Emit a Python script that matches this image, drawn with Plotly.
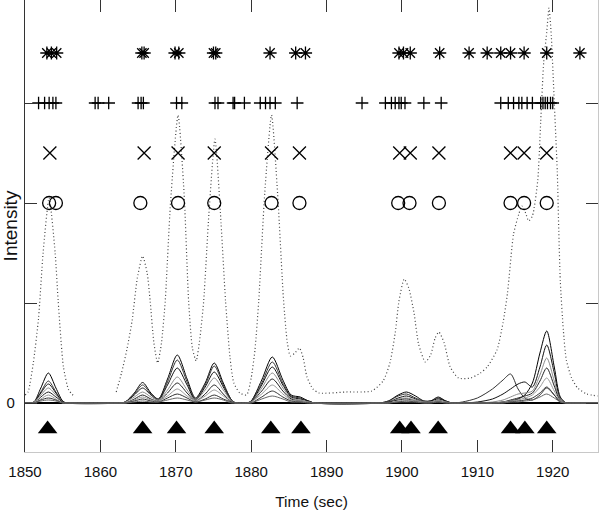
import plotly.graph_objects as go

# ---------------- data ----------------
# knot times shared by the solid (extracted-ion) chromatogram traces
KNOT_X = [1850.0, 1850.6, 1851.2, 1852.1, 1853.1, 1854.1, 1855.0, 1855.6,
          1862.6, 1863.3, 1864.5, 1865.6, 1866.7,
          1867.7,
          1868.9, 1870.2, 1871.5,
          1872.6,
          1873.9, 1875.1, 1876.3, 1877.4, 1878.0,
          1879.4, 1880.0, 1881.4, 1882.8, 1884.2, 1885.3, 1886.5, 1887.6, 1888.4,
          1897.0, 1898.2, 1899.5, 1900.6, 1901.8, 1902.9, 1903.8, 1904.8, 1905.8, 1906.6,
          1908.0, 1910.0, 1912.0, 1913.4, 1914.4, 1915.4, 1916.3, 1917.3, 1918.3, 1919.2,
          1920.2, 1921.0, 1921.8, 1922.5, 1926.0]

curve1 = [0, 0, 0.01, 0.15, 0.30, 0.15, 0.02, 0,
          0, 0.01, 0.10, 0.205, 0.10,
          0.04,
          0.24, 0.48, 0.24,
          0.05,
          0.20, 0.40, 0.20, 0.03, 0,
          0, 0.02, 0.23, 0.46, 0.23, 0.08, 0.06, 0.02, 0,
          0, 0.02, 0.08, 0.11, 0.07, 0.02, 0.02, 0.06, 0.02, 0,
          0, 0, 0, 0.01, 0.02, 0.04, 0.08, 0.20, 0.50, 0.72, 0.36, 0.06, 0, 0, 0]
curve2 = [0, 0, 0.01, 0.11, 0.22, 0.11, 0.01, 0,
          0, 0.01, 0.09, 0.18, 0.09,
          0.04,
          0.21, 0.43, 0.21,
          0.04,
          0.18, 0.37, 0.18, 0.03, 0,
          0, 0.02, 0.20, 0.41, 0.20, 0.07, 0.05, 0.02, 0,
          0, 0.02, 0.07, 0.09, 0.05, 0.02, 0.02, 0.05, 0.02, 0,
          0.01, 0.05, 0.14, 0.23, 0.29, 0.14, 0.05, 0.03, 0.08, 0.15, 0.08, 0.01, 0, 0, 0]
curve3 = [0, 0, 0.01, 0.10, 0.19, 0.10, 0.01, 0,
          0, 0.01, 0.08, 0.15, 0.08,
          0.03,
          0.18, 0.35, 0.18,
          0.03,
          0.16, 0.31, 0.16, 0.02, 0,
          0, 0.01, 0.18, 0.36, 0.18, 0.06, 0.04, 0.02, 0,
          0, 0.01, 0.05, 0.07, 0.04, 0.01, 0.02, 0.04, 0.02, 0,
          0, 0.01, 0.04, 0.09, 0.14, 0.19, 0.21, 0.16, 0.36, 0.58, 0.30, 0.04, 0, 0, 0]
curve4 = [0, 0, 0.01, 0.08, 0.15, 0.08, 0.01, 0,
          0, 0.01, 0.06, 0.11, 0.06,
          0.03,
          0.13, 0.26, 0.13,
          0.03,
          0.13, 0.25, 0.13, 0.02, 0,
          0, 0.01, 0.15, 0.30, 0.15, 0.05, 0.03, 0.01, 0,
          0, 0.01, 0.04, 0.05, 0.03, 0.01, 0.01, 0.03, 0.01, 0,
          0, 0, 0.01, 0.03, 0.06, 0.09, 0.10, 0.12, 0.28, 0.45, 0.22, 0.03, 0, 0, 0]
curve5 = [0, 0, 0, 0.06, 0.11, 0.06, 0.01, 0,
          0, 0, 0.04, 0.08, 0.04,
          0.02,
          0.10, 0.20, 0.10,
          0.02,
          0.09, 0.18, 0.09, 0.01, 0,
          0, 0.01, 0.12, 0.24, 0.12, 0.04, 0.02, 0.01, 0,
          0, 0.01, 0.03, 0.04, 0.02, 0.01, 0.01, 0.02, 0.01, 0,
          0, 0, 0, 0.01, 0.03, 0.05, 0.07, 0.10, 0.22, 0.35, 0.17, 0.02, 0, 0, 0]
curve6 = [0, 0, 0, 0.04, 0.08, 0.04, 0, 0,
          0, 0, 0.03, 0.06, 0.03,
          0.02,
          0.07, 0.14, 0.07,
          0.02,
          0.07, 0.13, 0.07, 0.01, 0,
          0, 0.01, 0.09, 0.18, 0.09, 0.03, 0.02, 0.01, 0,
          0, 0, 0.02, 0.03, 0.02, 0.01, 0.01, 0.02, 0.01, 0,
          0, 0, 0, 0.01, 0.02, 0.03, 0.05, 0.08, 0.16, 0.25, 0.12, 0.02, 0, 0, 0]
curve7 = [0, 0, 0, 0.03, 0.05, 0.03, 0, 0,
          0, 0, 0.02, 0.04, 0.02,
          0.01,
          0.05, 0.09, 0.05,
          0.01,
          0.04, 0.08, 0.04, 0.01, 0,
          0, 0, 0.06, 0.12, 0.06, 0.02, 0.01, 0, 0,
          0, 0, 0.01, 0.02, 0.01, 0, 0, 0.01, 0, 0,
          0, 0, 0, 0, 0.01, 0.02, 0.03, 0.05, 0.10, 0.16, 0.08, 0.01, 0, 0, 0]
curve8 = [0, 0, 0, 0.02, 0.03, 0.02, 0, 0,
          0, 0, 0.01, 0.02, 0.01,
          0.01,
          0.03, 0.05, 0.03,
          0.01,
          0.03, 0.05, 0.03, 0, 0,
          0, 0, 0.04, 0.07, 0.04, 0.01, 0.01, 0, 0,
          0, 0, 0.01, 0.01, 0.01, 0, 0, 0.01, 0, 0,
          0, 0, 0, 0, 0.01, 0.01, 0.02, 0.03, 0.06, 0.09, 0.05, 0.01, 0, 0, 0]

# total ion chromatogram (dotted)
TIC_X = [1850.0, 1850.4, 1851.1, 1851.8, 1852.4, 1853.2, 1854.0, 1854.4, 1855.1, 1855.8, 1856.6,
         1857.0,
         1862.1, 1862.8, 1863.5, 1864.2, 1864.9, 1865.6, 1866.2, 1866.6, 1867.1, 1867.6,
         1868.1, 1868.6, 1869.3, 1870.3, 1871.1, 1871.7, 1872.2, 1872.7,
         1873.2, 1873.7, 1874.4, 1875.2, 1876.0, 1876.6, 1877.2, 1877.7, 1878.5, 1879.4,
         1880.0, 1880.5, 1881.0, 1881.8, 1882.7, 1883.5, 1884.3, 1884.8, 1885.2, 1885.8,
         1886.4, 1886.9, 1887.4, 1888.2, 1889.0, 1892.5, 1896.0, 1897.5, 1898.4, 1899.1,
         1899.6, 1900.3, 1900.9, 1901.6, 1902.2, 1903.1, 1903.8, 1904.4, 1904.9, 1905.6,
         1906.4, 1907.5, 1909.1, 1910.4, 1911.3, 1912.6, 1913.4, 1914.0, 1914.8, 1915.5,
         1915.9, 1916.4, 1916.8, 1917.3, 1918.0, 1918.4, 1918.8, 1919.2, 1919.5, 1919.8,
         1920.2, 1920.6, 1920.8, 1921.0, 1921.4, 1921.8, 1922.5, 1923.3, 1924.5, 1926.0]
TIC_Y = [0.08, 0.11, 0.40, 0.85, 1.50, 2.05, 1.50, 1.02, 0.36, 0.13, 0.06,
         None,
         0.11, 0.30, 0.53, 0.82, 1.25, 1.47, 1.30, 1.02, 0.60, 0.40,
         0.60, 1.02, 2.00, 2.88, 2.10, 1.02, 0.55, 0.42,
         0.65, 1.02, 1.90, 2.64, 1.80, 1.02, 0.45, 0.20, 0.10, 0.08,
         0.25, 0.53, 1.02, 2.10, 2.88, 2.10, 1.02, 0.60, 0.47, 0.50,
         0.55, 0.45, 0.26, 0.14, 0.10, 0.11, 0.12, 0.22, 0.40, 0.70,
         1.02, 1.24, 1.15, 0.90, 0.59, 0.41, 0.48, 0.65, 0.71, 0.60,
         0.36, 0.25, 0.25, 0.30, 0.36, 0.53, 0.80, 1.10, 1.69, 1.89,
         1.97, 1.90, 1.82, 1.87, 2.22, 2.81, 3.41, 3.71, 3.95, 3.68,
         3.01, 2.31, 1.72, 1.22, 0.73, 0.43, 0.25, 0.15, 0.09, 0.07]

# detected components, one row per algorithm
ASTERISK_X = [1852.9, 1853.5, 1854.2, 1865.5, 1865.8, 1869.9, 1870.4, 1875.0, 1875.3,
              1882.5, 1885.9, 1887.2, 1899.6, 1900.2, 1901.1, 1905.0, 1908.9, 1911.3,
              1913.1, 1914.4, 1916.2, 1919.2, 1923.6]
PLUS_X = [1851.8, 1852.6, 1853.2, 1853.7, 1854.1, 1859.3, 1859.7, 1861.1, 1865.0, 1865.4,
          1865.7, 1870.1, 1870.8, 1875.2, 1875.6, 1877.6, 1877.8, 1879.1, 1881.2, 1881.9,
          1882.5, 1883.2, 1886.1, 1894.7, 1897.8, 1898.6, 1899.1, 1899.6, 1899.9, 1900.4,
          1902.9, 1905.2, 1913.1, 1914.1, 1914.8, 1915.5, 1915.9, 1916.6, 1917.3, 1918.4,
          1918.7, 1919.0, 1919.3, 1919.7, 1920.0]
XMARK_X = [1853.3, 1865.8, 1870.3, 1875.1, 1882.7, 1886.4, 1899.7, 1901.1, 1904.9,
           1914.4, 1916.2, 1919.2]
CIRCLE_X = [1853.2, 1854.1, 1865.3, 1870.3, 1875.1, 1882.7, 1886.4, 1899.5, 1901.0,
            1904.9, 1914.4, 1916.2, 1919.2]
TRIANGLE_X = [1853.0, 1865.6, 1870.1, 1875.1, 1882.6, 1886.6, 1899.7, 1901.2, 1904.8,
              1914.4, 1916.3, 1919.2]

ROW_LEVELS = {"asterisk": 3.5, "plus": 3.0, "x": 2.5, "circle": 2.0, "triangle": -0.26}

X_TICKS = [1850, 1860, 1870, 1880, 1890, 1900, 1910, 1920]
Y_TICKS = [0, 1, 2, 3]
Y_TICK_TEXT = ["0", "", "", ""]

# ---------------- figure ----------------
CURVES = [curve1, curve2, curve3, curve4, curve5, curve6, curve7, curve8]
CURVE_COLORS = ["#000000", "#333333", "#111111", "#8c8c8c", "#222222", "#9a9a9a", "#333333", "#666666"]

fig = go.Figure()
for ys, col in zip(CURVES, CURVE_COLORS):
    fig.add_trace(go.Scatter(x=KNOT_X, y=ys, mode="lines",
                             line=dict(color=col, width=1, shape="spline", smoothing=0.8),
                             hoverinfo="skip", showlegend=False))

fig.add_trace(go.Scatter(x=TIC_X, y=TIC_Y, mode="lines", connectgaps=False,
                         line=dict(color="#444444", width=1.2, dash="1px,2.5px",
                                   shape="spline", smoothing=0.6),
                         showlegend=False))

def row(xs, level, symbol, size, width=1.3):
    marker = dict(symbol=symbol, size=size, color="black",
                  line=dict(color="black", width=width))
    fig.add_trace(go.Scatter(x=xs, y=[level] * len(xs), mode="markers",
                             marker=marker, showlegend=False))

row(ASTERISK_X, ROW_LEVELS["asterisk"], "asterisk-open", 11)
row(PLUS_X, ROW_LEVELS["plus"], "cross-thin-open", 9)
row(XMARK_X, ROW_LEVELS["x"], "x-thin-open", 13)
row(CIRCLE_X, ROW_LEVELS["circle"], "circle-open", 13)
row(TRIANGLE_X, ROW_LEVELS["triangle"], "triangle-up", 17, width=0)

# invisible trace for the right-hand mirrored y axis
fig.add_trace(go.Scatter(x=[1850], y=[0], yaxis="y2", mode="markers",
                         marker=dict(opacity=0), hoverinfo="skip", showlegend=False))

YRANGE = [-0.49, 4.03]
fig.update_layout(
    width=600, height=510,
    margin=dict(l=25, r=2, t=0, b=58),
    paper_bgcolor="white", plot_bgcolor="white",
    font=dict(family="Liberation Sans, Arial, sans-serif", color="#111111", size=15),
    xaxis=dict(range=[1850, 1926], tickvals=X_TICKS, ticks="inside", ticklen=12,
               tickcolor="#333333", tickwidth=1, showline=True, linecolor="#c8c8c8",
               linewidth=1, mirror="ticks", showgrid=False, zeroline=False,
               ticklabelstandoff=6, automargin=False,
               title=dict(text="Time (sec)", font=dict(size=15.5), standoff=17)),
    yaxis=dict(range=YRANGE, tickvals=Y_TICKS, ticktext=Y_TICK_TEXT, ticks="inside",
               ticklen=12, tickcolor="#333333", showline=True, linecolor="#333333",
               linewidth=1.2, showgrid=False, zeroline=True, zerolinecolor="black",
               zerolinewidth=1.5, ticklabelstandoff=6, automargin=False,
               title=dict(text="Intensity", font=dict(size=19), standoff=0)),
    yaxis2=dict(range=YRANGE, overlaying="y", side="right", tickvals=Y_TICKS,
                showticklabels=False, ticks="inside", ticklen=12, tickcolor="#333333",
                showline=True, linecolor="#c8c8c8", showgrid=False, zeroline=False,
                automargin=False),
)

fig.write_html("out.html", config={"displayModeBar": False},
               post_script="document.body.style.margin='0';document.body.style.overflow='hidden';")
